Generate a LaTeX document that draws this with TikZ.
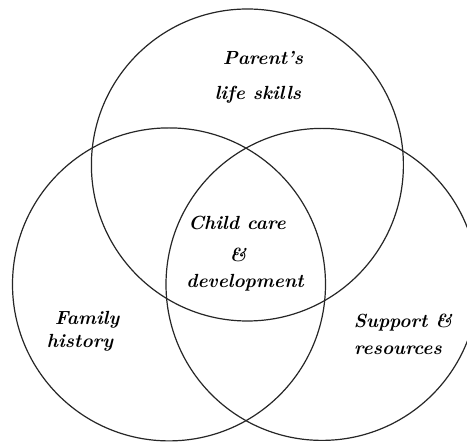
\documentclass[tikz,border=0pt]{standalone}
\usepackage{fontspec}
\tikzset{
  ring/.style={draw=black!85, line width=1.2pt},
  lbl/.style={font=\fontsize{19}{21}\selectfont\bfseries\itshape\addfontfeatures{LetterSpace=9}, inner sep=0pt, anchor=center}
}
\begin{document}
\begin{tikzpicture}[x=1pt,y=-1pt]
\useasboundingbox (0,0) rectangle (467,443);
\fill[white] (0,0) rectangle (467,443);
\begin{scope}
\clip (0,0) rectangle (467,443);
\draw[ring] (247.4,165) circle[radius=156];
\draw[ring] (169,284.4) circle[radius=156.5];
\draw[ring] (322,284.4) circle[radius=156];
\end{scope}
\node[lbl] (p1) at (263,58) {Parent's};
\node[lbl] (p2) at (258,95) {life skills};
\node[lbl] (c1) at (237,223) {Child care};
\node[lbl] (c2) at (238,255) {\&};
\node[lbl] (c3) at (245,283) {development};
\node[lbl] (f1) at (87,320) {Family};
\node[lbl] (f2) at (80,343) {history};
\node[lbl] (s1) at (403,323) {Support \&};
\node[lbl] (s2) at (398,350) {resources};
\end{tikzpicture}
\end{document}
